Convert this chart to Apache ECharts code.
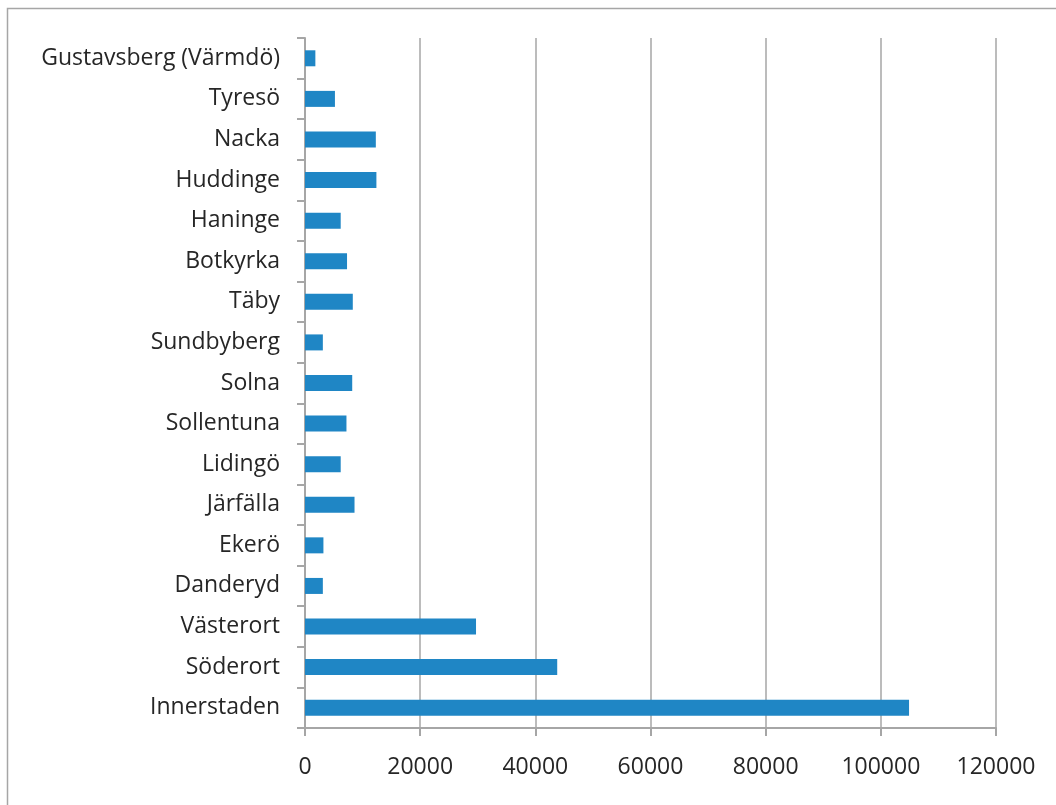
<!DOCTYPE html>
<html>
<head>
<meta charset="utf-8">
<script src="https://cdn.jsdelivr.net/npm/echarts@6/dist/echarts.min.js"></script>
<style>html,body{margin:0;padding:0;background:#fff;}#chart{width:1056px;height:805px;}</style>
</head>
<body>
<div id="chart"></div>
<script>
const categories = ["Innerstaden","Söderort","Västerort","Danderyd","Ekerö","Järfälla","Lidingö","Sollentuna","Solna","Sundbyberg","Täby","Botkyrka","Haninge","Huddinge","Nacka","Tyresö","Gustavsberg (Värmdö)"];
const values = [104900,43800,29700,3100,3200,8600,6200,7200,8200,3100,8300,7300,6200,12400,12300,5200,1800];
const xTicks = {min:0, max:120000, interval:20000};

const chart = echarts.init(document.getElementById('chart'), null, {renderer:'canvas'});
const font = 'Open Sans';
chart.setOption({
  animation:false,
  graphic:[{type:'rect', shape:{x:7.5, y:8.5, width:1100, height:900}, style:{fill:'none', stroke:'#a6a6a6', lineWidth:1.5}, silent:true, z:-1}],
  grid:{left:305, top:38, width:691, height:690, containLabel:false},
  xAxis:{
    type:'value', min:xTicks.min, max:xTicks.max, interval:xTicks.interval,
    axisLine:{show:true, lineStyle:{color:'#a6a6a6', width:2}},
    axisTick:{show:true, length:8, lineStyle:{color:'#a6a6a6', width:2}},
    splitLine:{show:true, lineStyle:{color:'#a6a6a6', width:1.5}},
    axisLabel:{color:'#262626', fontFamily:font, fontSize:23, margin:28, formatter:function(v){return String(v);}}
  },
  yAxis:{
    type:'category', data:categories,
    axisLine:{show:true, lineStyle:{color:'#a6a6a6', width:2}},
    axisTick:{show:true, length:8, lineStyle:{color:'#a6a6a6', width:2}},
    axisLabel:{color:'#262626', fontFamily:font, fontSize:23, margin:25}
  },
  series:[{type:'bar', data:values, barWidth:16, itemStyle:{color:'#1F86C5'}}]
});
</script>
</body>
</html>
